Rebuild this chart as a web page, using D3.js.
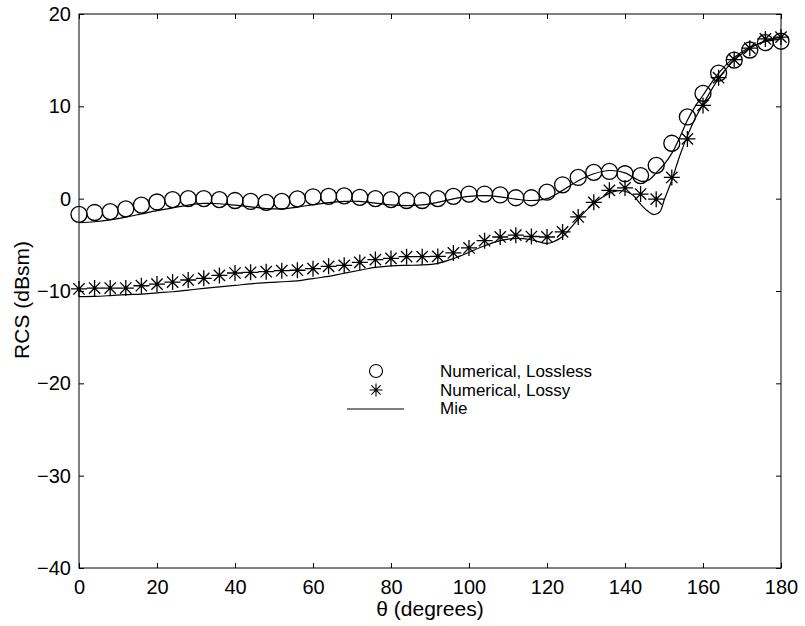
<!DOCTYPE html>
<html lang="en">
<head>
    <meta charset="utf-8">
    <title>RCS vs angle</title>
    <script src="https://cdn.jsdelivr.net/npm/d3@7/dist/d3.min.js"></script>
    <style>
        body { margin: 0; background: #fff; }
        text { font-family: "Liberation Sans", Arial, Helvetica, sans-serif; fill: #000; }
    </style>
</head>
<body>
<script>
    // sample angles of the numerical results (every 4 degrees)
    var angles = d3.range(0, 181, 4);

    // Numerical, Lossless (circles)
    var lossless = [-1.7, -1.5, -1.4, -1.1, -0.7, -0.36, -0.1, 0, 0, -0.1, -0.2, -0.3,
        -0.4, -0.3, -0.02, 0.2, 0.25, 0.3, 0.15, 0, -0.1, -0.2, -0.2, 0, 0.25, 0.5,
        0.5, 0.4, 0.1, 0.1, 0.7, 1.5, 2.3, 2.85, 2.95, 2.7, 2.5, 3.6, 6.0, 8.85,
        11.4, 13.6, 15.0, 16.1, 16.9, 17.05];

    // Numerical, Lossy (asterisks)
    var lossy = [-9.78, -9.68, -9.68, -9.68, -9.43, -9.25, -9.03, -8.81, -8.63, -8.31,
        -8.05, -7.98, -7.91, -7.8, -7.75, -7.58, -7.33, -7.22, -6.9, -6.6, -6.47,
        -6.28, -6.28, -6.25, -5.88, -5.34, -4.55, -4.15, -3.95, -4.1, -4.15, -3.6,
        -1.98, -0.4, 0.9, 1.16, 0.5, -0.05, 2.3, 6.47, 10.1, 13.1, 15.06, 16.3,
        17.3, 17.5];

    // Mie series (solid lines), read at these angles
    var mieAnglesA = [0, 4, 8, 12, 16, 20, 24, 28, 32, 36, 40, 44, 48, 52, 56, 60, 64,
        68, 72, 76, 80, 84, 88, 92, 96, 100, 104, 108, 112, 116, 120, 124, 128, 132,
        136, 140, 144, 146, 148, 150, 152, 154, 156, 158, 160, 164, 168, 172, 176, 180];
    var mieLossless = [-2.6, -2.5, -2.3, -2.0, -1.65, -1.3, -1.0, -0.7, -0.52, -0.55,
        -0.7, -0.88, -1.07, -1.1, -0.92, -0.65, -0.42, -0.3, -0.3, -0.48, -0.68,
        -0.76, -0.68, -0.4, -0.02, 0.25, 0.32, 0.2, -0.05, -0.2, 0.0, 0.9, 1.95,
        2.7, 3.05, 2.8, 1.9, 2.0, 2.8, 3.7, 4.9, 6.6, 8.5, 10.0, 11.2, 13.6, 15.3,
        16.4, 17.0, 17.3];

    var mieAnglesB = [0, 4, 8, 12, 16, 20, 24, 28, 32, 36, 40, 44, 48, 52, 56, 60, 64,
        68, 72, 76, 80, 84, 88, 92, 96, 100, 104, 108, 112, 116, 120, 122, 124, 126,
        128, 130, 132, 134, 136, 138, 140, 142, 144, 146, 147.5, 149, 150, 152, 154,
        156, 158, 160, 164, 168, 172, 176, 180];
    var mieLossy = [-10.6, -10.58, -10.5, -10.4, -10.33, -10.2, -10.08, -9.9, -9.72,
        -9.56, -9.4, -9.22, -9.1, -9.0, -8.9, -8.65, -8.42, -8.08, -7.75, -7.45,
        -7.28, -7.22, -7.18, -7.0, -6.5, -5.8, -5.1, -4.55, -4.3, -4.45, -4.85,
        -4.6, -4.1, -3.2, -2.2, -1.3, -0.5, 0.1, 0.6, 0.85, 0.8, 0.4, -0.6, -1.4,
        -1.73, -1.4, -0.2, 2.0, 4.6, 6.8, 8.7, 10.2, 13.0, 15.0, 16.3, 17.1, 17.5];

    var xTicks = d3.range(0, 181, 20);
    var yTicks = d3.range(-40, 21, 10);

    var legendLabels = ["Numerical, Lossless", "Numerical, Lossy", "Mie"];

    //画布
    var width = 805, height = 626;
    var svg = d3.select("body").append("svg")
            .attr("width", width)
            .attr("height", height);

    var x = d3.scaleLinear().domain([0, 180]).range([79, 781]);
    var y = d3.scaleLinear().domain([-40, 20]).range([568, 14]);

    // axes, ticks pointing inward on all four sides
    function styleAxis(g) {
        g.select(".domain").remove();
        g.selectAll(".tick line").attr("stroke", "#000").attr("stroke-width", 1);
        g.selectAll("text").style("font-size", "20px").attr("fill", "#000");
    }

    svg.append("g").attr("transform", "translate(0,568)")
            .call(d3.axisBottom(x).tickValues(xTicks).tickSize(-5).tickPadding(12)
                .tickFormat(d3.format("d")))
            .call(styleAxis);
    svg.append("g").attr("transform", "translate(0,14)")
            .call(d3.axisTop(x).tickValues(xTicks).tickSize(-5).tickFormat(""))
            .call(styleAxis);
    svg.append("g").attr("transform", "translate(79,0)")
            .call(d3.axisLeft(y).tickValues(yTicks).tickSize(-5).tickPadding(8)
                .tickFormat(function (d) { return d < 0 ? "\u2212" + (-d) : d; }))
            .call(styleAxis);
    svg.append("g").attr("transform", "translate(781,0)")
            .call(d3.axisRight(y).tickValues(yTicks).tickSize(-5).tickFormat(""))
            .call(styleAxis);

    svg.append("rect")
            .attr("x", 79).attr("y", 14)
            .attr("width", 702).attr("height", 554)
            .attr("fill", "none").attr("stroke", "#000").attr("stroke-width", 1);

    // axis titles
    svg.append("text")
            .attr("x", 430).attr("y", 616)
            .attr("text-anchor", "middle")
            .style("font-size", "21px")
            .text("\u03b8 (degrees)");
    svg.append("text")
            .attr("transform", "translate(29,300) rotate(-90)")
            .attr("text-anchor", "middle")
            .style("font-size", "21px")
            .text("RCS (dBsm)");

    // Mie curves
    var line = d3.line()
            .x(function (d) { return x(d[0]); })
            .y(function (d) { return y(d[1]); })
            .curve(d3.curveCatmullRom.alpha(0.5));

    [[mieAnglesA, mieLossless], [mieAnglesB, mieLossy]].forEach(function (s) {
        svg.append("path")
                .datum(d3.zip(s[0], s[1]))
                .attr("d", line)
                .attr("fill", "none")
                .attr("stroke", "#000")
                .attr("stroke-width", 1.2);
    });

    // asterisk marker path
    function starPath(r) {
        var a = r * Math.SQRT1_2;
        return "M" + (-r) + ",0H" + r + "M0," + (-r) + "V" + r +
            "M" + (-a) + "," + (-a) + "L" + a + "," + a +
            "M" + (-a) + "," + a + "L" + a + "," + (-a);
    }

    svg.append("g").selectAll("circle")
            .data(d3.zip(angles, lossless))
            .enter().append("circle")
            .attr("cx", function (d) { return x(d[0]); })
            .attr("cy", function (d) { return y(d[1]); })
            .attr("r", 8)
            .attr("fill", "none")
            .attr("stroke", "#000")
            .attr("stroke-width", 1.3);

    svg.append("g").selectAll("path")
            .data(d3.zip(angles, lossy))
            .enter().append("path")
            .attr("transform", function (d) { return "translate(" + x(d[0]) + "," + y(d[1]) + ")"; })
            .attr("d", starPath(8))
            .attr("fill", "none")
            .attr("stroke", "#000")
            .attr("stroke-width", 1.3);

    // legend
    var lg = svg.append("g");
    lg.append("circle").attr("cx", 376).attr("cy", 371).attr("r", 6.5)
            .attr("fill", "none").attr("stroke", "#000").attr("stroke-width", 1.1);
    lg.append("path").attr("transform", "translate(376,390)").attr("d", starPath(6.5))
            .attr("fill", "none").attr("stroke", "#000").attr("stroke-width", 1.1);
    lg.append("line").attr("x1", 347).attr("x2", 404).attr("y1", 409).attr("y2", 409)
            .attr("stroke", "#000").attr("stroke-width", 1.2);
    lg.selectAll("text").data(legendLabels).enter().append("text")
            .attr("x", 440)
            .attr("y", function (d, i) { return 377 + i * 18.5; })
            .style("font-size", "17px")
            .text(function (d) { return d; });
</script>
</body>
</html>
